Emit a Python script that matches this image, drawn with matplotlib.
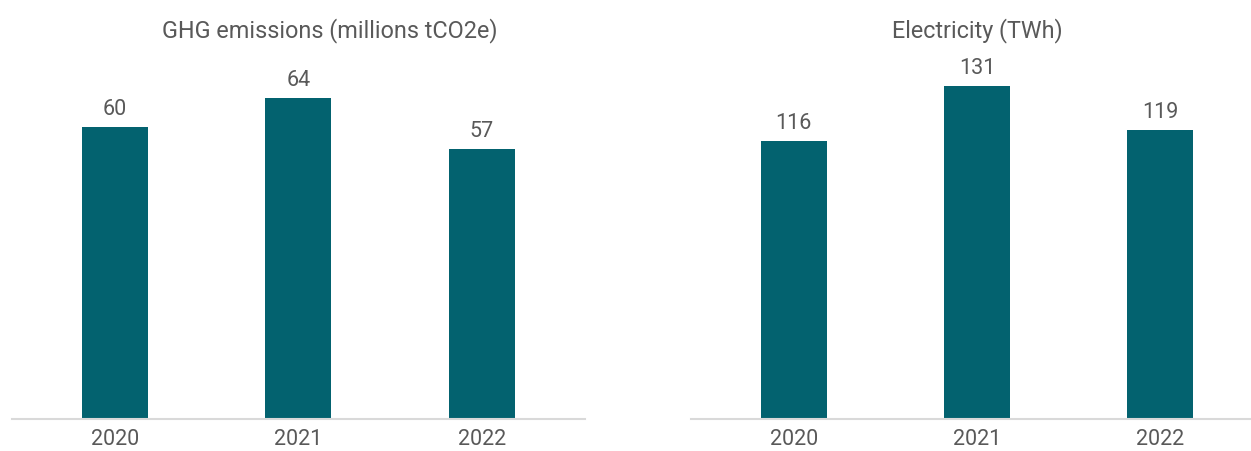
import matplotlib
matplotlib.use("Agg")
import matplotlib.pyplot as plt

years = ["2020", "2021", "2022"]
ghg_emissions = [60, 64, 57]          # millions tCO2e
electricity = [116, 131, 119]         # TWh

titles = ["GHG emissions (millions tCO2e)", "Electricity (TWh)"]

BAR_COLOR = "#03626F"
TEXT_COLOR = "#595959"
AXIS_COLOR = "#D9D9D9"

plt.rcParams["font.family"] = ["Roboto", "DejaVu Sans"]

W, H = 1251, 451
fig = plt.figure(figsize=(W / 100, H / 100), dpi=100)

def px_axes(x0, x1, y_top, y_bottom):
    return fig.add_axes([x0 / W, 1 - y_bottom / H, (x1 - x0) / W, (y_bottom - y_top) / H])

panels = [
    (px_axes(12, 585, 60, 419), ghg_emissions, (20, 69.25), 330),
    (px_axes(691, 1263, 60, 419), electricity, (40, 138.1), 977),
]

for (ax, values, ylim, title_x), title in zip(panels, titles):
    x = range(len(years))
    ax.bar(x, values, width=0.36, color=BAR_COLOR, zorder=2)
    ax.set_xlim(-0.561, 2.562)
    ax.set_ylim(*ylim)
    for xi, v in zip(x, values):
        ax.annotate(f"{v}", (xi, v), xytext=(0, 8.6), textcoords="offset points",
                    ha="center", va="baseline", fontsize=15.5, color=TEXT_COLOR)
    ax.set_xticks(list(x))
    ax.set_xticklabels(years, fontsize=15.5, color=TEXT_COLOR)
    ax.tick_params(axis="x", length=0, pad=7)
    ax.set_yticks([])
    for side in ("top", "right", "left"):
        ax.spines[side].set_visible(False)
    ax.spines["bottom"].set_color(AXIS_COLOR)
    ax.spines["bottom"].set_linewidth(1.5)
    ax.spines["bottom"].set_zorder(3)
    ax.patch.set_alpha(0)
    fig.text(title_x / W, 1 - 37 / H, title, ha="center", va="baseline",
             fontsize=16.8, color=TEXT_COLOR)

fig.savefig("out.png", dpi=100, facecolor="white")
